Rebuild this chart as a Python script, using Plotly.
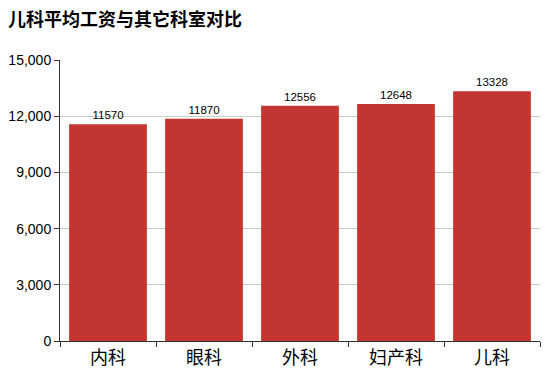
import plotly.graph_objects as go

categories = ["内科", "眼科", "外科", "妇产科", "儿科"]
salaries = [11570, 11870, 12556, 12648, 13328]
y_ticks = [0, 3000, 6000, 9000, 12000, 15000]
y_tick_labels = ["0", "3,000", "6,000", "9,000", "12,000", "15,000"]

font_family = "Noto Sans CJK SC, Liberation Sans, sans-serif"

fig = go.Figure(go.Bar(
    x=categories, y=salaries,
    marker=dict(color="#c23531", line=dict(width=0)),
    text=[str(v) for v in salaries], textposition="outside",
    textfont=dict(size=11.5, color="#000", family="Liberation Sans, sans-serif"),
    cliponaxis=False,
))

# page body has an 8px default margin, so margins are compensated
fig.update_layout(
    width=551, height=383,
    margin=dict(l=52, r=19, t=52, b=50, autoexpand=False),
    paper_bgcolor="white", plot_bgcolor="white",
    bargap=0.19,
    showlegend=False,
    title=dict(text="<b>儿科平均工资与其它科室对比</b>", x=0.0, xanchor="left",
               xref="container", yref="container",
               y=0.97, yanchor="middle", pad=dict(t=0, l=0),
               font=dict(size=18, color="#000", family=font_family)),
    xaxis=dict(showline=True, linecolor="#333", linewidth=1,
               ticks="outside", ticklen=5, tickcolor="#333",
               tickson="boundaries", automargin=False,
               tickfont=dict(size=18, color="#000", family=font_family),
               showgrid=False),
    yaxis=dict(range=[0, 15000], tickvals=y_ticks, ticktext=y_tick_labels,
               showline=True, linecolor="#333", linewidth=1,
               ticks="outside", ticklen=5, tickcolor="#333",
               showgrid=True, gridcolor="#ccc", gridwidth=1,
               zeroline=False, automargin=False,
               tickfont=dict(size=14, color="#000", family="Liberation Sans, sans-serif")),
)

fig.write_html("out.html")
